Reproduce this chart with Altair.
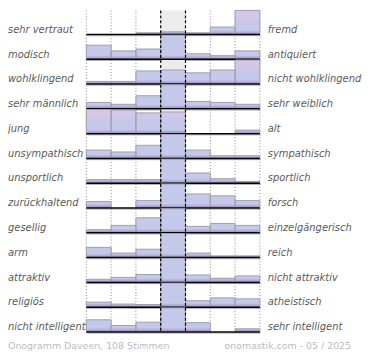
import altair as alt
import pandas as pd

left_labels = ["sehr vertraut", "modisch", "wohlklingend", "sehr männlich", " jung",
               "unsympathisch", "unsportlich", "zurückhaltend", "gesellig", "arm",
               "attraktiv", "religiös", "nicht intelligent"]
right_labels = ["fremd", "antiquiert", "nicht wohlklingend", "sehr weiblich", "alt",
                "sympathisch", "sportlich", "forsch", "einzelgängerisch", "reich",
                "nicht attraktiv", "atheistisch", "sehr intelligent"]

# share of votes (%) per scale position, one list per position 1..7
col1 = [0, 14, 2, 6, 26, 8, 3, 6, 2.5, 10, 2.5, 4.5, 12]
col2 = [0, 8, 2, 4, 24, 6, 3, 0, 7, 4, 4.5, 2.5, 6]
col3 = [1, 10, 13, 13, 21, 13, 3, 7, 15, 8, 7.5, 2, 9.5]
col4 = [2, 52, 14, 60, 22, 61, 76, 54, 53.5, 72, 69, 68, 61]
col5 = [1, 5, 11, 7, 0, 8, 10, 14, 6, 4, 7, 6, 9]
col6 = [7, 3, 14, 6, 0, 2, 4, 12, 9, 1, 3.5, 9, 0]
col7 = [89, 8, 44, 4, 3, 2, 1, 7, 7, 1, 6, 8, 2.5]

footer_left = "Onogramm Daveen, 108 Stimmen"
footer_right = "onomastik.com - 05 / 2025"

cols = [col1, col2, col3, col4, col5, col6, col7]
CAP = 24.5
rows = []
for r in range(len(left_labels)):
    for c in range(7):
        v = cols[c][r]
        vt = min(v, CAP)
        rows.append({
            "r": r, "left": left_labels[r], "right": right_labels[r],
            "c": c + 1, "v": v, "x0": c, "x1": c + 1, "zero": 0,
            "vb": min(v, 3.5), "vt": vt, "pk0": 11,
            "op": max(0.0, min(1.0, (vt - 11) / (CAP - 11))),
            "last": r == len(left_labels) - 1,
        })
df = pd.DataFrame(rows)

W = 175
H = 25
xs = alt.Scale(domain=[0, 7])
ys = alt.Scale(domain=[0, CAP], range=[H - 1.5, 0], clamp=True)

X = alt.X("x0:Q", scale=xs, axis=None)
X2 = alt.X2("x1:Q")

def grad(top, bottom):
    return alt.Gradient(gradient="linear",
                        stops=[alt.GradientStop(color=top, offset=0),
                               alt.GradientStop(color=bottom, offset=1)],
                        x1=0, x2=0, y1=0, y2=1)

bg = alt.Chart().mark_rect(color="#ececec").encode(
    x=X, x2=X2, y=alt.value(0), y2=alt.value(H)
).transform_filter("datum.c == 4")

dotted = alt.Chart().mark_rule(color="#888888", strokeDash=[1, 2], strokeWidth=1).encode(
    x=X, y=alt.value(0), y2=alt.value(H)
).transform_filter("datum.c != 4 && datum.c != 5")

dotted_end = alt.Chart().mark_rule(color="#888888", strokeDash=[1, 2], strokeWidth=1).encode(
    x=alt.X("x1:Q", scale=xs, axis=None), y=alt.value(0), y2=alt.value(H)
).transform_filter("datum.c == 7")

Y = alt.Y("v:Q", scale=ys, axis=None)
Y0 = alt.Y2("zero:Q")

base = alt.Chart().mark_rect(fill="#c4c9ea").encode(
    x=X, x2=X2, y=Y, y2=Y0
).transform_filter("datum.v > 0")

bottom = alt.Chart().mark_rect(fill=grad("#c4c9ea", "#a797cc")).encode(
    x=X, x2=X2, y=alt.Y("vb:Q", scale=ys, axis=None), y2=Y0
).transform_filter("datum.v > 0")

pink = alt.Chart().mark_rect(fill=grad("#ddc6e7", "#c4c9ea")).encode(
    x=X, x2=X2, y=alt.Y("vt:Q", scale=ys, axis=None), y2=alt.Y2("pk0:Q"),
    opacity=alt.Opacity("op:Q", scale=None)
).transform_filter("datum.v > 11 && !(datum.c == 4 && datum.v > 24.5)")

outline = alt.Chart().mark_rect(fillOpacity=0, stroke="#9e9eb0", strokeWidth=1).encode(
    x=X, x2=X2, y=Y, y2=Y0
).transform_filter("datum.v > 0")

dash_l = alt.Chart().mark_rule(color="black", strokeDash=[3, 2], strokeWidth=1.2).encode(
    x=X, y=alt.value(0), y2=alt.value(H)
).transform_filter("datum.c == 4")
dash_r = alt.Chart().mark_rule(color="black", strokeDash=[3, 2], strokeWidth=1.2).encode(
    x=alt.X("x1:Q", scale=xs, axis=None), y=alt.value(0), y2=alt.value(H)
).transform_filter("datum.c == 4")

shadow = alt.Chart().mark_rule(color="#b4b4b4", strokeWidth=1).encode(
    x=alt.value(1), x2=alt.value(W + 1), y=alt.value(H + 0.5)
).transform_filter("datum.c == 1")

baseline = alt.Chart().mark_rule(color="black", strokeWidth=1.5).encode(
    x=alt.value(0), x2=alt.value(W), y=alt.value(H - 0.75)
).transform_filter("datum.c == 1")

font = "DejaVu Sans"
left_txt = alt.Chart().mark_text(align="left", baseline="alphabetic", font=font,
                                 fontSize=10, fontStyle="italic", color="#5a5a5a").encode(
    x=alt.value(-79), y=alt.value(H - 2.5), text="left:N"
).transform_filter("datum.c == 1")

right_txt = alt.Chart().mark_text(align="left", baseline="alphabetic", font=font,
                                  fontSize=10, fontStyle="italic", color="#5a5a5a").encode(
    x=alt.value(W + 8), y=alt.value(H - 2.5), text="right:N"
).transform_filter("datum.c == 1")

foot_l = alt.Chart().mark_text(align="left", baseline="alphabetic", font=font,
                               fontSize=9.5, color="#bbbbbb", text=footer_left).encode(
    x=alt.value(-79), y=alt.value(H + 16)
).transform_filter("datum.c == 1 && datum.last")

foot_r = alt.Chart().mark_text(align="right", baseline="alphabetic", font=font,
                               fontSize=9.5, color="#bbbbbb", text=footer_right).encode(
    x=alt.value(W + 92), y=alt.value(H + 16)
).transform_filter("datum.c == 1 && datum.last")

layered = alt.layer(bg, dotted, dotted_end, base, bottom, pink, outline,
                    dash_l, dash_r, shadow, baseline, left_txt, right_txt,
                    foot_l, foot_r, data=df).properties(width=W, height=H)

chart = layered.facet(
    row=alt.Row("r:O", header=None), spacing=0, bounds="flush"
).properties(padding=0).configure_view(stroke=None)

chart.save("out.html", embed_options={"renderer": "svg", "actions": False})
